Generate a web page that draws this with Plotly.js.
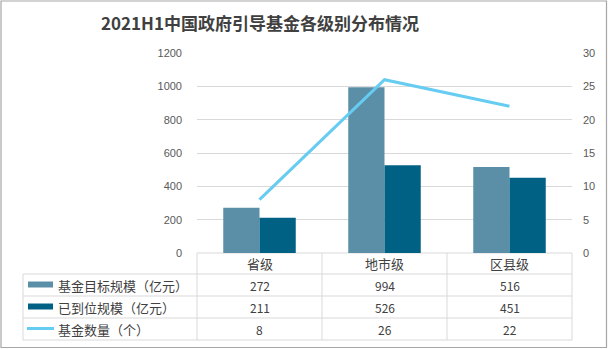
<!DOCTYPE html>
<html><head><meta charset="utf-8">
<script src="https://cdn.plot.ly/plotly-3.0.1.min.js"></script>
<style>html,body{margin:0;padding:0;background:#fff;}#chart{width:608px;height:349px;}</style>
</head><body><div id="chart"></div>
<script>
const categories = ['省级', '地市级', '区县级'];
const targetScale = [272, 994, 516];
const paidScale = [211, 526, 451];
const fundCount = [8, 26, 22];
const seriesNames = ['基金目标规模（亿元）', '已到位规模（亿元）', '基金数量（个）'];
const leftTicks = [0, 200, 400, 600, 800, 1000, 1200];
const rightTicks = [0, 5, 10, 15, 20, 25, 30];
const titleText = '2021H1中国政府引导基金各级别分布情况';

const W = 608, H = 349, L = 197, R = 572, T = 53, B = 253;
const px = x => (x - L) / (R - L);
const py = y => (B - y) / (B - T);
const colors = ['#5B8FA8', '#006185', '#66CCF2'];
const font = '"Noto Sans CJK SC", "Noto Sans", sans-serif';
const grey = '#595959';
const lineC = '#D9D9D9';

const data = [
  {type: 'bar', x: categories, y: targetScale, name: seriesNames[0], marker: {color: colors[0]}, showlegend: false},
  {type: 'bar', x: categories, y: paidScale, name: seriesNames[1], marker: {color: colors[1]}, showlegend: false},
  {type: 'scatter', mode: 'lines', x: categories, y: fundCount, yaxis: 'y2', name: seriesNames[2], line: {color: colors[2], width: 3}, showlegend: false}
];

const shapes = [];
const annotations = [];
const rowY = [253, 274, 296, 318, 340];
rowY.forEach((y, i) => {
  shapes.push({type: 'line', xref: 'paper', yref: 'paper', x0: px(i === 0 ? L : 23), x1: px(R), y0: py(y), y1: py(y), line: {color: lineC, width: 1}, layer: 'below'});
});
const colX = [L, L + 125, L + 250, R];
colX.forEach(x => {
  shapes.push({type: 'line', xref: 'paper', yref: 'paper', x0: px(x), x1: px(x), y0: py(253), y1: py(340), line: {color: lineC, width: 1}});
});
shapes.push({type: 'line', xref: 'paper', yref: 'paper', x0: px(23), x1: px(23), y0: py(274), y1: py(340), line: {color: lineC, width: 1}});
shapes.push({type: 'rect', xref: 'paper', yref: 'paper', x0: px(1), x1: px(606.5), y0: py(1), y1: py(347.5), line: {color: '#A6A6A6', width: 1.2}});

const rowCenters = [285, 307, 329];
shapes.push({type: 'rect', xref: 'paper', yref: 'paper', x0: px(28), x1: px(53), y0: py(281.5), y1: py(287.5), fillcolor: colors[0], line: {width: 0}});
shapes.push({type: 'rect', xref: 'paper', yref: 'paper', x0: px(28), x1: px(53), y0: py(303.5), y1: py(309.5), fillcolor: colors[1], line: {width: 0}});
shapes.push({type: 'line', xref: 'paper', yref: 'paper', x0: px(27), x1: px(54), y0: py(328.5), y1: py(328.5), line: {color: colors[2], width: 3}});

seriesNames.forEach((n, i) => {
  annotations.push({xref: 'paper', yref: 'paper', x: px(56), y: py(rowCenters[i]), xanchor: 'left', yanchor: 'middle', text: n, showarrow: false, font: {family: font, size: 13, color: '#404040'}});
});
const rows = [targetScale, paidScale, fundCount];
categories.forEach((c, j) => {
  const cx = L + 62.5 + 125 * j;
  annotations.push({xref: 'paper', yref: 'paper', x: px(cx), y: py(263.5), xanchor: 'center', yanchor: 'middle', text: c, showarrow: false, font: {family: font, size: 13, color: '#404040'}});
  rows.forEach((r, i) => {
    annotations.push({xref: 'paper', yref: 'paper', x: px(cx), y: py(rowCenters[i]), xanchor: 'center', yanchor: 'middle', text: String(r[j]), showarrow: false, font: {family: font, size: 12, color: '#404040'}});
  });
});

const layout = {
  width: W, height: H,
  margin: {l: L, r: W - R, t: T, b: H - B, pad: 0},
  paper_bgcolor: '#fff', plot_bgcolor: '#fff',
  title: {text: '<b>' + titleText + '</b>', xref: 'container', x: 260 / W, xanchor: 'center', yref: 'container', y: 1 - 24 / H, yanchor: 'middle', font: {family: font, size: 17, color: '#404040'}},
  barmode: 'group', bargap: 0.42, bargroupgap: 0,
  xaxis: {type: 'category', showticklabels: false, showgrid: false, zeroline: false, showline: false, ticks: ''},
  yaxis: {range: [0, 1200], tickvals: leftTicks, showgrid: true, gridcolor: lineC, gridwidth: 1, zeroline: false, showline: false, ticks: '', tickfont: {family: '"Liberation Sans", sans-serif', size: 11, color: grey}, ticklabelstandoff: 14},
  yaxis2: {range: [0, 30], tickvals: rightTicks, overlaying: 'y', side: 'right', showgrid: false, zeroline: false, showline: false, ticks: '', tickfont: {family: '"Liberation Sans", sans-serif', size: 11, color: grey}, ticklabelstandoff: 10},
  shapes: shapes,
  annotations: annotations,
  showlegend: false
};
Plotly.newPlot('chart', data, layout, {displayModeBar: false, staticPlot: true});
</script></body></html>
